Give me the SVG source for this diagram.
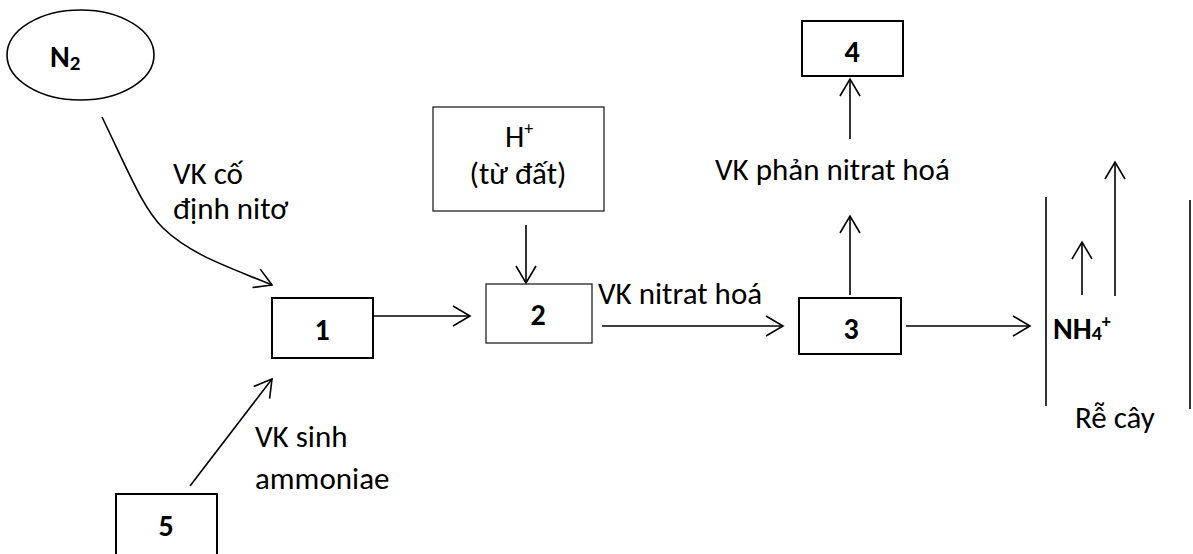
<svg xmlns="http://www.w3.org/2000/svg" width="1193" height="554" viewBox="0 0 1193 554">
<style>
text{font-family:Carlito,Lato,"Open Sans",sans-serif;font-size:31px;fill:#000}
.b{font-weight:bold;font-size:30px}
.box{fill:#fff;stroke:#000;stroke-width:2}
.thin{fill:#fff;stroke:#222;stroke-width:1.3}
.ln{fill:none;stroke:#000;stroke-width:1.6}
</style>
<defs>
<marker id="ah" markerUnits="userSpaceOnUse" markerWidth="30" markerHeight="30" viewBox="-20 -15 25 30" refX="0" refY="0" orient="auto">
<path d="M-17,-10 L0,0 L-17,10" fill="none" stroke="#000" stroke-width="1.6"/>
</marker>
</defs>
<rect width="1193" height="554" fill="#fff"/>
<g id="n2"><ellipse cx="80.5" cy="55" rx="73.5" ry="45" fill="#fff" stroke="#000" stroke-width="1.6"/><text class="b" x="50" y="67">N<tspan font-size="21" dy="3">2</tspan></text></g>
<g id="h"><rect class="thin" x="433" y="107" width="171" height="104"/><text x="505" y="147">H<tspan font-size="18" dy="-12">+</tspan></text><text x="518" y="184" text-anchor="middle">(từ đất)</text></g>
<g id="b1"><rect class="box" x="272" y="298" width="101" height="60"/><text class="b" x="322" y="340" text-anchor="middle">1</text></g>
<g id="b2"><rect class="thin" x="486" y="284" width="106" height="59"/><text class="b" x="538" y="325" text-anchor="middle">2</text></g>
<g id="b3"><rect class="box" x="799" y="298" width="102" height="56"/><text class="b" x="851" y="339" text-anchor="middle">3</text></g>
<g id="b4"><rect class="box" x="802" y="21" width="101" height="55"/><text class="b" x="852" y="62" text-anchor="middle">4</text></g>
<g id="b5"><rect class="box" x="116" y="494" width="101" height="70"/><text class="b" x="166" y="536" text-anchor="middle">5</text></g>
<g id="root"><line class="ln" x1="1046" y1="197" x2="1046" y2="406"/><line class="ln" x1="1190" y1="200" x2="1190" y2="409"/><text class="b" x="1053" y="339" font-size="28">NH<tspan font-size="20" dy="1">4</tspan><tspan font-size="18" dy="-13">+</tspan></text><text x="1075" y="428">Rễ cây</text></g>
<g id="connectors">
<path class="ln" d="M102,117 C130,175 143,208 163,228 C192,256 232,268 272,285" marker-end="url(#ah)"/>
<line class="ln" x1="190" y1="486" x2="272" y2="379" marker-end="url(#ah)"/>
<line class="ln" x1="373" y1="316" x2="470" y2="316" stroke-width="2" marker-end="url(#ah)"/>
<line class="ln" x1="526" y1="225" x2="526" y2="283" marker-end="url(#ah)"/>
<line class="ln" x1="602" y1="326" x2="783" y2="326" marker-end="url(#ah)"/>
<line class="ln" x1="850" y1="295" x2="850" y2="216" marker-end="url(#ah)"/>
<line class="ln" x1="850" y1="139" x2="850" y2="79" marker-end="url(#ah)"/>
<line class="ln" x1="906" y1="326" x2="1030" y2="326" marker-end="url(#ah)"/>
<line class="ln" x1="1082" y1="295" x2="1082" y2="242" marker-end="url(#ah)"/>
<line class="ln" x1="1115" y1="296" x2="1115" y2="162" marker-end="url(#ah)"/>
</g>
<g id="labels">
<text x="173" y="184">VK cố</text>
<text x="173" y="219">định nitơ</text>
<text x="255" y="447">VK sinh</text>
<text x="255" y="489">ammoniae</text>
<text x="598" y="304">VK nitrat hoá</text>
<text x="715" y="180">VK phản nitrat hoá</text>
</g>
</svg>
